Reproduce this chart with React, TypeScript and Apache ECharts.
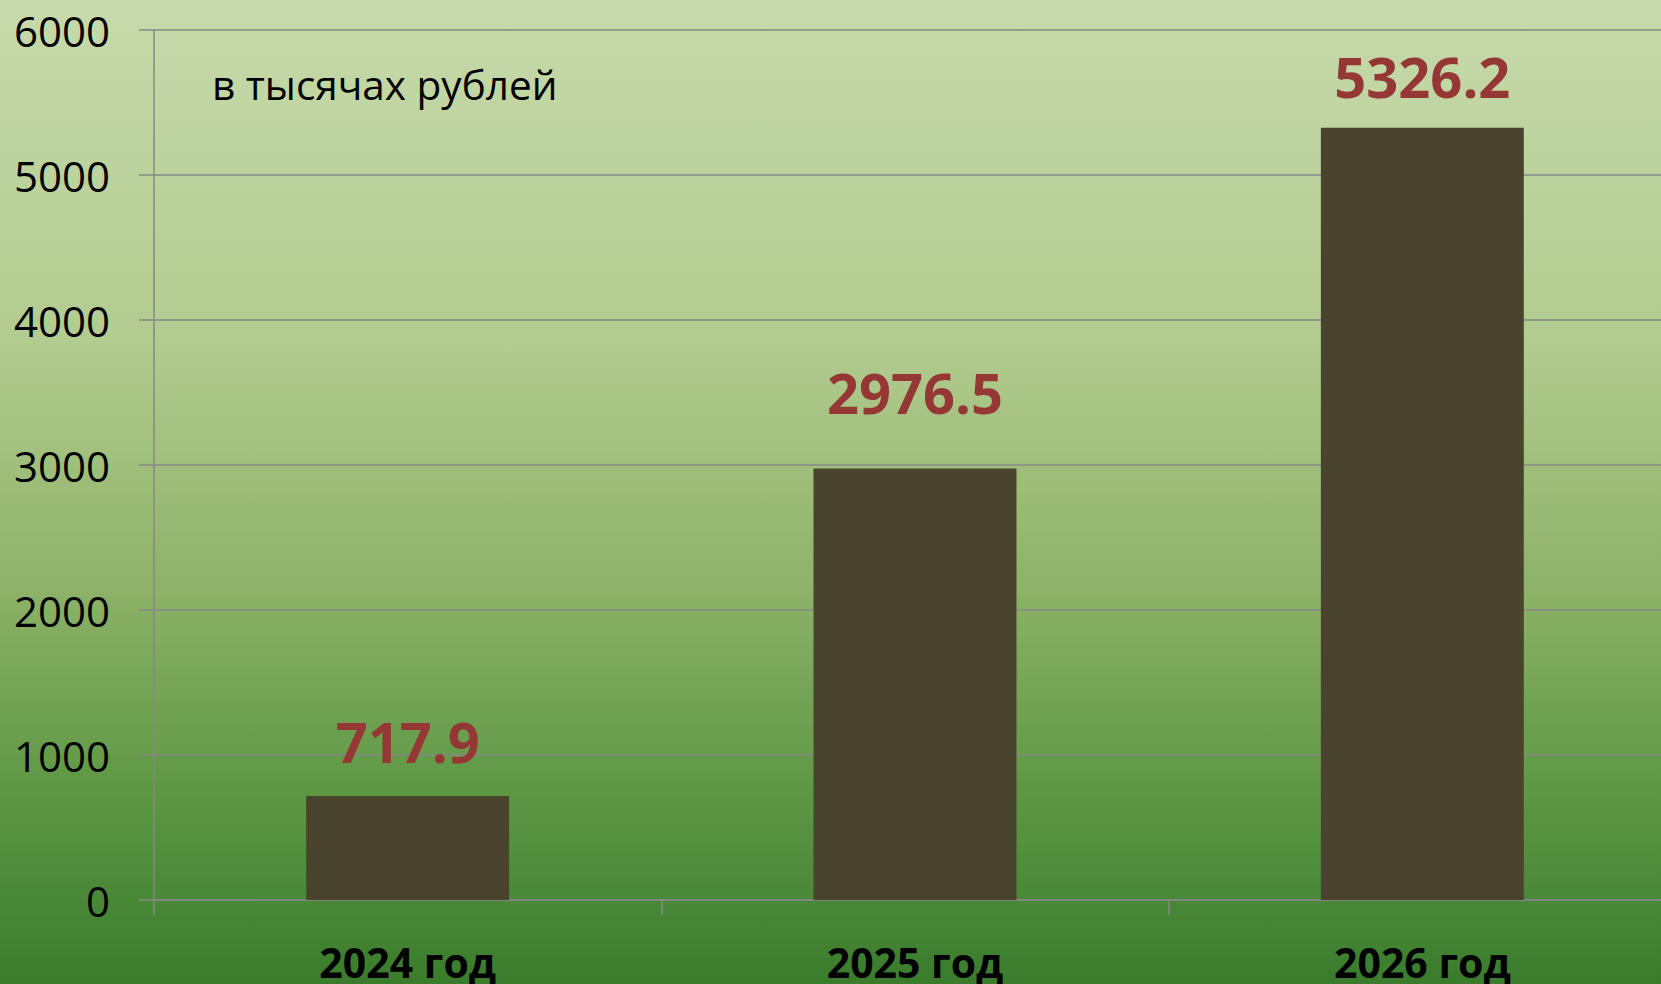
import React, { useEffect, useRef } from "react";
import * as echarts from "echarts";

const categories = ["2024 год", "2025 год", "2026 год"];
const values = [717.9, 2976.5, 5326.2];
const yTicks = { min: 0, max: 6000, interval: 1000 };
const unitNote = "в тысячах рублей";

// extra upward nudge of each value label (style only)
const labelLift = [3, 24, 0];

const FONT = "'Open Sans', 'Noto Sans', sans-serif";
const AXIS_GRAY = "#878787";

export default function App() {
  const ref = useRef<HTMLDivElement>(null);

  useEffect(() => {
    if (!ref.current) return;
    const chart = echarts.init(ref.current, undefined, { renderer: "svg" });
    chart.setOption({
      animation: false,
      backgroundColor: new echarts.graphic.LinearGradient(0, 0, 0, 1, [
        { offset: 0, color: "#c7daab" },
        { offset: 0.35, color: "#b2cb8f" },
        { offset: 0.6, color: "#8db268" },
        { offset: 0.8, color: "#5e9845" },
        { offset: 1, color: "#3a7c2c" },
      ]),
      grid: { left: 154, right: 0, top: 30, bottom: 84, containLabel: false },
      graphic: [
        {
          type: "text",
          left: 212,
          top: 64,
          style: {
            text: unitNote,
            fontFamily: FONT,
            fontSize: 40.5,
            fill: "#000000",
          },
        },
      ],
      xAxis: {
        type: "category",
        data: categories,
        axisLine: { show: true, lineStyle: { color: AXIS_GRAY, width: 1.5 } },
        axisTick: { show: true, length: 15, lineStyle: { color: AXIS_GRAY, width: 1.5 } },
        axisLabel: {
          color: "#000000",
          fontFamily: FONT,
          fontWeight: "bold",
          fontSize: 41,
          margin: 41,
        },
        splitLine: { show: false },
      },
      yAxis: {
        type: "value",
        min: yTicks.min,
        max: yTicks.max,
        interval: yTicks.interval,
        axisLine: { show: true, lineStyle: { color: AXIS_GRAY, width: 1.5 } },
        axisTick: { show: true, length: 15, lineStyle: { color: AXIS_GRAY, width: 1.5 } },
        axisLabel: {
          color: "#000000",
          fontFamily: FONT,
          fontSize: 42,
          margin: 44,
          formatter: (v: number) => String(v),
        },
        splitLine: { show: true, lineStyle: { color: AXIS_GRAY, width: 1.5 } },
      },
      series: [
        {
          type: "bar",
          barWidth: "40%",
          itemStyle: { color: "#4a432e" },
          data: values.map((v, i) => ({
            value: v,
            label: { offset: [0, -labelLift[i]] },
          })),
          label: {
            show: true,
            position: "top",
            distance: 24,
            color: "#953735",
            fontFamily: FONT,
            fontWeight: "bold",
            fontSize: 56,
            formatter: (p: any) => Number(p.value).toFixed(1),
          },
        },
      ],
    });
    return () => chart.dispose();
  }, []);

  return (
    <div
      style={{
        position: "fixed",
        left: 0,
        top: 0,
        width: 1661,
        height: 984,
        overflow: "hidden",
      }}
    >
      <div ref={ref} style={{ width: 1676, height: 984 }} />
    </div>
  );
}
